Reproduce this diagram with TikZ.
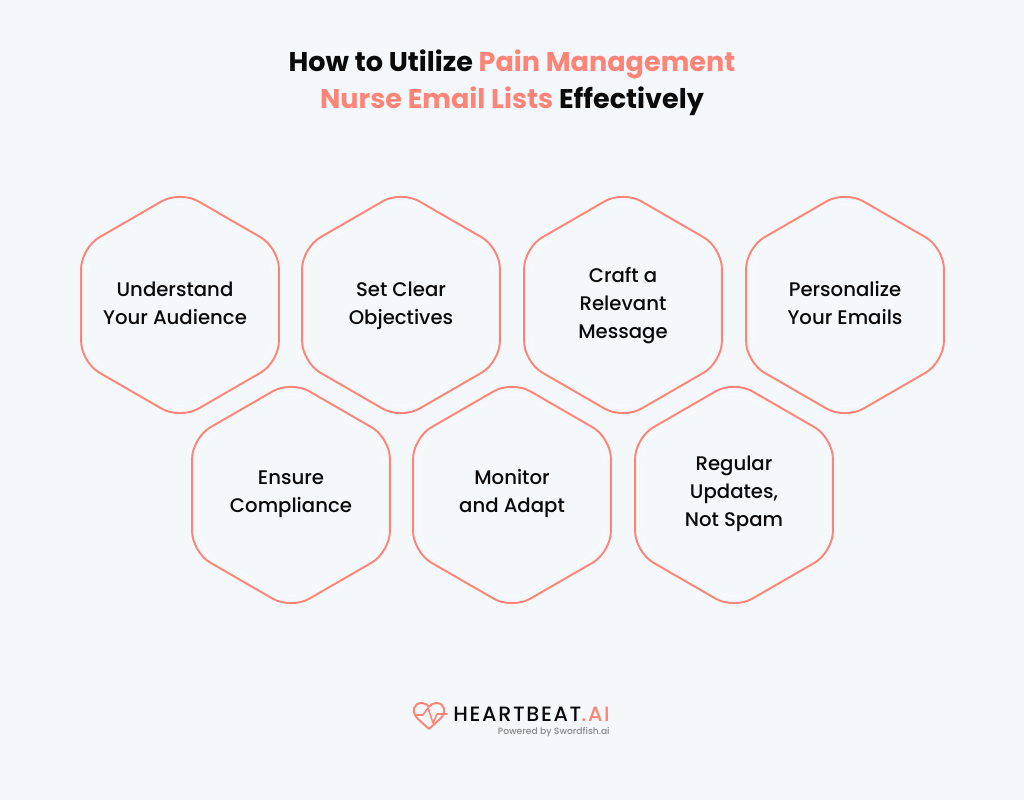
\documentclass[tikz,border=0pt]{standalone}
\usepackage{fontspec}
\setmainfont[BoldFont=Poppins]{Poppins Medium}
\newfontfamily\titlefont{Poppins Bold}
\newfontfamily\logofont{Poppins Medium}
\usetikzlibrary{positioning,calc,shapes.geometric}
\definecolor{bgcol}{HTML}{F4F8FB}
\definecolor{salmon}{HTML}{FF8478}
\definecolor{inkcol}{HTML}{0A0A0A}
\definecolor{greycol}{HTML}{85898E}
\tikzset{
  hexshape/.style={regular polygon,regular polygon sides=6,shape border rotate=30,inner sep=0pt},
  hexbox/.style={hexshape,draw=salmon,line width=1.1pt,minimum size=4.57cm,rounded corners=0.42cm},
  hexinner/.style={hexshape,draw=white,draw opacity=0.6,line width=0.3pt,minimum size=4.25cm,rounded corners=0.38cm},
  hextext/.style={align=center,inner sep=0pt,text=inkcol,font=\fontsize{11.2}{15.9}\selectfont},
  titletext/.style={align=center,text=inkcol,font=\titlefont\fontsize{15.4}{21}\selectfont}
}
\begin{document}
\begin{tikzpicture}
      % background
      \fill[bgcol] (0,0) rectangle (20.48,16);
      \useasboundingbox (0,0) rectangle (20.48,16);

      % title
      \node[titletext] (title) at (10.24,14.35) {How to Utilize \textcolor{salmon}{Pain Management}\\
        \textcolor{salmon}{Nurse Email Lists} Effectively};

      % hexagons
      \node[hexbox] (understand) at (3.6,9.9) {};
      \node[hexbox] (objectives) at (8.02,9.9) {};
      \node[hexbox] (message) at (12.46,9.9) {};
      \node[hexbox] (personalize) at (16.9,9.9) {};
      \node[hexbox] (compliance) at (5.82,6.1) {};
      \node[hexbox] (monitor) at (10.24,6.1) {};
      \node[hexbox] (updates) at (14.68,6.1) {};

      % faint inner outlines
      \foreach \hexname in {understand,objectives,message,personalize,compliance,monitor,updates}
        \node[hexinner] (\hexname inner) at (\hexname.center) {};

      % labels
      \node[hextext] (understandtext) at ([xshift=-0.1cm,yshift=0.01cm]understand.center) {\strut Understand\\\strut Your Audience};
      \node[hextext] (objectivestext) at ([yshift=0.01cm]objectives.center) {\strut Set Clear\\\strut Objectives};
      \node[hextext] (messagetext) at ([yshift=0.01cm]message.center) {\strut Craft a\\\strut Relevant\\\strut Message};
      \node[hextext] (personalizetext) at ([yshift=0.01cm]personalize.center) {\strut Personalize\\\strut Your Emails};
      \node[hextext] (compliancetext) at ([yshift=0.05cm]compliance.center) {\strut Ensure\\\strut Compliance};
      \node[hextext] (monitortext) at ([yshift=0.05cm]monitor.center) {\strut Monitor\\\strut and Adapt};
      \node[hextext] (updatestext) at ([yshift=0.05cm]updates.center) {\strut Regular\\\strut Updates,\\\strut Not Spam};

      % logo
      \draw[salmon,line width=1.1pt,line join=round,line cap=round]
        (8.58,1.42) -- (8.36,1.62)
        .. controls (8.22,1.76) and (8.26,1.94) .. (8.44,1.94)
        .. controls (8.5,1.94) and (8.56,1.9) .. (8.58,1.86)
        .. controls (8.6,1.9) and (8.66,1.94) .. (8.72,1.94)
        .. controls (8.9,1.94) and (8.94,1.76) .. (8.8,1.62)
        -- cycle;
      \draw[salmon,line width=0.9pt,line join=round,line cap=round]
        (8.3,1.7) -- (8.46,1.7) -- (8.56,1.84) -- (8.66,1.54) -- (8.74,1.72) -- (8.94,1.72);
      \node[anchor=west,inner sep=0pt,text=inkcol,font=\logofont\fontsize{11.8}{14}\selectfont] (logotext) at (9.06,1.72)
        {\addfontfeature{LetterSpace=8}HEARTBEAT\textcolor{salmon}{.AI}};
      \node[anchor=east,inner sep=0pt,text=greycol,font=\logofont\fontsize{5.2}{7}\selectfont] (poweredby) at (12.2,1.36)
        {Powered by Swordfish.ai};
\end{tikzpicture}
\end{document}
